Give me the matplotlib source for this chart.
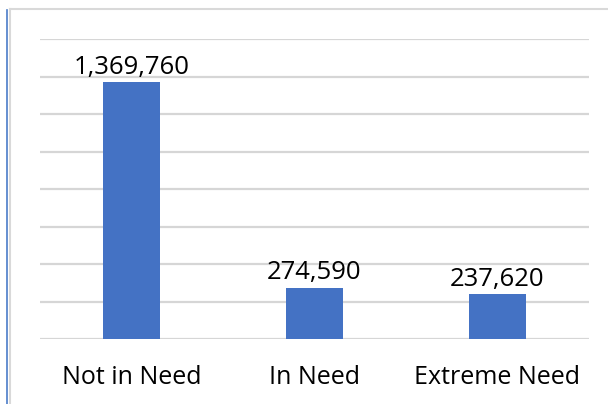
import matplotlib.pyplot as plt
from matplotlib.lines import Line2D

categories = ['Not in Need', 'In Need', 'Extreme Need']
counts = [1369760, 274590, 237620]
grid_ticks = [0, 200000, 400000, 600000, 800000, 1000000, 1200000, 1400000, 1600000]

plt.rcParams['font.family'] = ['Open Sans', 'DejaVu Sans']

W, H = 608, 404
fig = plt.figure(figsize=(W / 100, H / 100), dpi=100)
ax = fig.add_axes([40 / W, 1 - 339 / H, 549 / W, 300 / H])

x = range(len(categories))
bars = ax.bar(x, counts, width=0.31, color='#4472C4', zorder=3)
for b, v in zip(bars, counts):
    ax.text(b.get_x() + b.get_width() / 2, v + 14000, f'{v:,}',
            ha='center', va='bottom', fontsize=18.5, color='black')

ax.set_xlim(-0.5, 2.5)
ax.set_ylim(0, 1600000)
ax.set_yticks(grid_ticks)
ax.yaxis.grid(True, color='#d6d6d6', linewidth=1.6)
ax.tick_params(axis='y', left=False, labelleft=False)
ax.tick_params(axis='x', bottom=False, labelsize=18, pad=15)
ax.set_xticks(list(x))
ax.set_xticklabels(categories)
for s in ax.spines.values():
    s.set_visible(False)

# chart frame and the blue edge line on the left
fig.add_artist(Line2D([10 / W, 1], [1 - 9 / H] * 2, color='#d9d9d9', lw=1.5))
fig.add_artist(Line2D([10 / W] * 2, [0, 1 - 9 / H], color='#d9d9d9', lw=1.5))
fig.add_artist(Line2D([7 / W] * 2, [0, 1 - 10 / H], color='#4a7bc8', lw=1.2))

fig.savefig('out.png', dpi=100)
